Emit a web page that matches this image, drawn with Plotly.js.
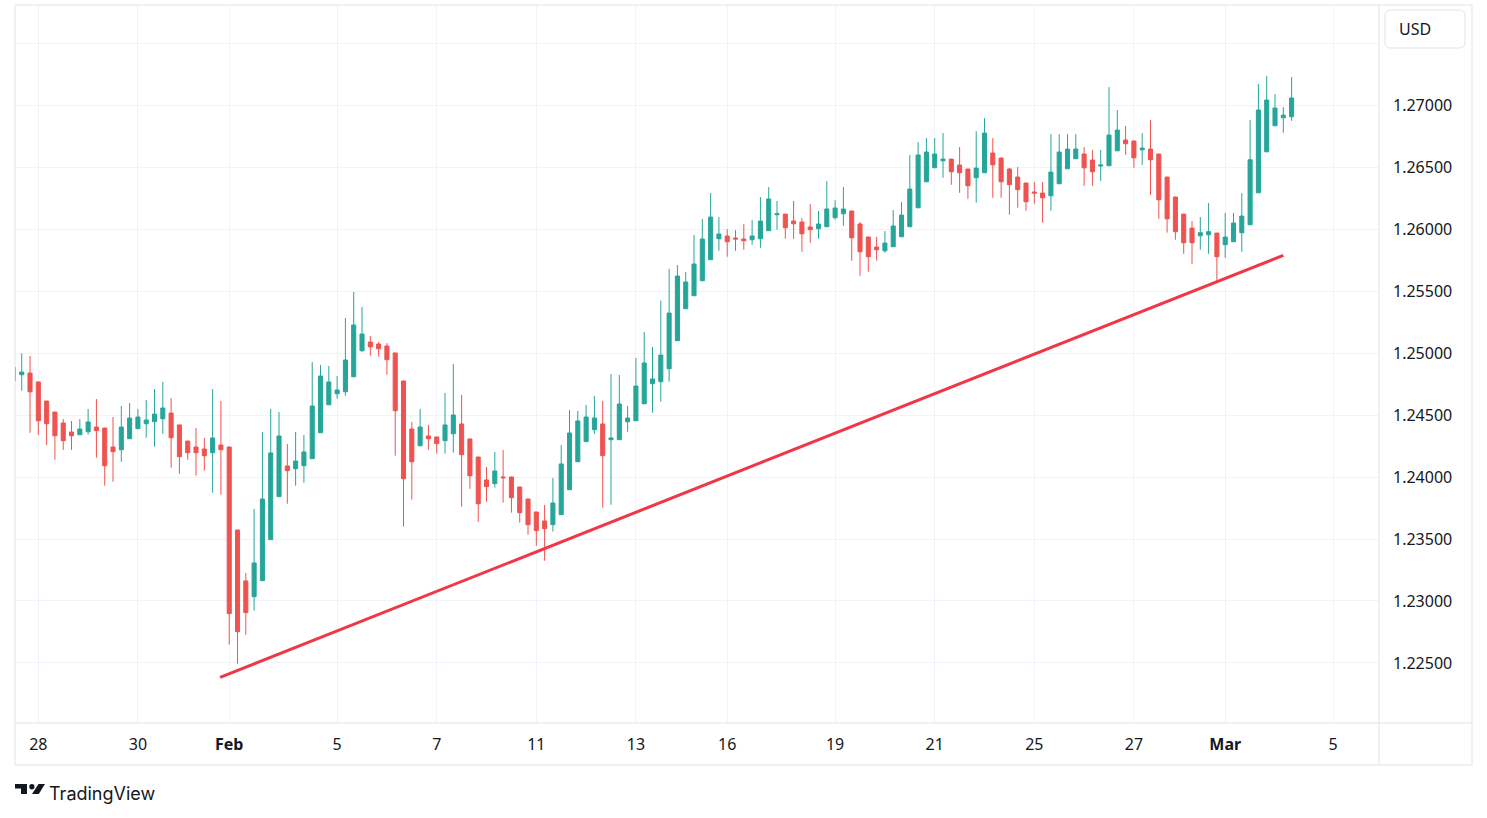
<!DOCTYPE html>
<html>
<head>
<meta charset="utf-8">
<script src="https://cdn.plot.ly/plotly-3.0.1.min.js"></script>
<style>
  html, body { margin: 0; padding: 0; background: #ffffff; }
  #chart { width: 1487px; height: 818px; }
</style>
</head>
<body>
<div id="chart"></div>
<script>
// 4h candles (oldest first)
var openP = [
  1.24778, 1.24826, 1.24840, 1.24768, 1.24614, 1.24525, 1.24437, 1.24364, 1.24342, 1.24366,
  1.24404, 1.24396, 1.24243, 1.24221, 1.24310, 1.24391, 1.24431, 1.24447, 1.24471, 1.24517,
  1.24421, 1.24291, 1.24243, 1.24227, 1.24197, 1.24259, 1.24243, 1.23573, 1.23162, 1.23035,
  1.23164, 1.23495, 1.23842, 1.24090, 1.24068, 1.24092, 1.24149, 1.24358, 1.24584, 1.24673,
  1.24689, 1.24810, 1.25020, 1.25090, 1.25074, 1.25058, 1.25002, 1.24776, 1.24388, 1.24253,
  1.24332, 1.24324, 1.24294, 1.24350, 1.24429, 1.24308, 1.24162, 1.23977, 1.23947, 1.24001,
  1.24001, 1.23920, 1.23823, 1.23718, 1.23646, 1.23616, 1.23697, 1.23898, 1.24124, 1.24286,
  1.24383, 1.24429, 1.24302, 1.24302, 1.24447, 1.24455, 1.24592, 1.24754, 1.24770, 1.24875,
  1.25101, 1.25359, 1.25464, 1.25585, 1.25755, 1.25924, 1.25946, 1.25930, 1.25922, 1.25916,
  1.25924, 1.25989, 1.26118, 1.26123, 1.26067, 1.26059, 1.26019, 1.26005, 1.26021, 1.26094,
  1.26126, 1.26148, 1.26043, 1.25938, 1.25857, 1.25827, 1.25860, 1.25940, 1.26021, 1.26174,
  1.26384, 1.26497, 1.26553, 1.26567, 1.26519, 1.26487, 1.26416, 1.26457, 1.26616, 1.26576,
  1.26487, 1.26422, 1.26374, 1.26301, 1.26293, 1.26271, 1.26368, 1.26489, 1.26570, 1.26608,
  1.26559, 1.26511, 1.26513, 1.26634, 1.26721, 1.26713, 1.26642, 1.26648, 1.26608, 1.26422,
  1.26261, 1.26123, 1.26010, 1.25948, 1.25956, 1.25970, 1.25876, 1.25900, 1.25973, 1.26037,
  1.26295, 1.26626, 1.26836, 1.26901, 1.26909
];
var highP = [
  1.24897, 1.24999, 1.24977, 1.24770, 1.24616, 1.24527, 1.24469, 1.24453, 1.24469, 1.24550,
  1.24630, 1.24398, 1.24485, 1.24574, 1.24598, 1.24550, 1.24622, 1.24711, 1.24768, 1.24638,
  1.24423, 1.24293, 1.24396, 1.24316, 1.24711, 1.24614, 1.24245, 1.23575, 1.23226, 1.23743,
  1.24364, 1.24550, 1.24525, 1.24267, 1.24364, 1.24340, 1.24929, 1.24905, 1.24897, 1.24816,
  1.25284, 1.25494, 1.25373, 1.25139, 1.25090, 1.25082, 1.25004, 1.24778, 1.24445, 1.24550,
  1.24421, 1.24326, 1.24679, 1.24913, 1.24663, 1.24310, 1.24164, 1.24082, 1.24203, 1.24219,
  1.24003, 1.23922, 1.23825, 1.23720, 1.23775, 1.23993, 1.24259, 1.24542, 1.24534, 1.24582,
  1.24655, 1.24614, 1.24832, 1.24824, 1.24574, 1.24961, 1.25171, 1.25050, 1.25424, 1.25680,
  1.25712, 1.25655, 1.25954, 1.26083, 1.26293, 1.26099, 1.26002, 1.25994, 1.26043, 1.26075,
  1.26261, 1.26341, 1.26229, 1.26125, 1.26229, 1.26091, 1.26204, 1.26148, 1.26390, 1.26236,
  1.26341, 1.26150, 1.26059, 1.25940, 1.25940, 1.25986, 1.26156, 1.26220, 1.26600, 1.26704,
  1.26737, 1.26737, 1.26777, 1.26569, 1.26664, 1.26489, 1.26793, 1.26898, 1.26737, 1.26578,
  1.26495, 1.26503, 1.26376, 1.26382, 1.26382, 1.26769, 1.26769, 1.26769, 1.26769, 1.26664,
  1.26640, 1.26640, 1.27148, 1.26963, 1.26834, 1.26715, 1.26777, 1.26882, 1.26610, 1.26424,
  1.26263, 1.26125, 1.26067, 1.26099, 1.26212, 1.25972, 1.26132, 1.26132, 1.26293, 1.26882,
  1.27173, 1.27237, 1.27092, 1.26987, 1.27229
];
var lowP = [
  1.24772, 1.24697, 1.24358, 1.24340, 1.24259, 1.24140, 1.24219, 1.24219, 1.24340, 1.24342,
  1.24157, 1.23931, 1.23963, 1.24124, 1.24308, 1.24389, 1.24318, 1.24245, 1.24350, 1.24076,
  1.24027, 1.24140, 1.24011, 1.24052, 1.23874, 1.23858, 1.22647, 1.22494, 1.22728, 1.22922,
  1.23162, 1.23493, 1.23840, 1.23785, 1.23931, 1.23955, 1.24147, 1.24356, 1.24582, 1.24633,
  1.24657, 1.24808, 1.25012, 1.24980, 1.24972, 1.24826, 1.24173, 1.23600, 1.23818, 1.24251,
  1.24221, 1.24189, 1.24189, 1.24197, 1.23761, 1.23906, 1.23640, 1.23802, 1.23915, 1.23793,
  1.23713, 1.23632, 1.23535, 1.23446, 1.23325, 1.23560, 1.23695, 1.23896, 1.24122, 1.24284,
  1.24350, 1.23753, 1.23777, 1.24300, 1.24366, 1.24453, 1.24590, 1.24520, 1.24609, 1.24770,
  1.25099, 1.25357, 1.25462, 1.25583, 1.25753, 1.25827, 1.25779, 1.25827, 1.25835, 1.25876,
  1.25851, 1.25987, 1.25997, 1.25924, 1.25924, 1.25819, 1.25892, 1.25924, 1.26019, 1.26078,
  1.26029, 1.25747, 1.25625, 1.25658, 1.25747, 1.25811, 1.25858, 1.25938, 1.26019, 1.26172,
  1.26382, 1.26495, 1.26416, 1.26360, 1.26295, 1.26247, 1.26215, 1.26455, 1.26255, 1.26255,
  1.26118, 1.26174, 1.26150, 1.26207, 1.26053, 1.26150, 1.26366, 1.26487, 1.26568, 1.26352,
  1.26352, 1.26392, 1.26511, 1.26632, 1.26602, 1.26497, 1.26521, 1.26279, 1.26085, 1.25973,
  1.25916, 1.25803, 1.25722, 1.25835, 1.25803, 1.25585, 1.25771, 1.25898, 1.25819, 1.26035,
  1.26293, 1.26624, 1.26834, 1.26780, 1.26876
];
var closeP = [
  1.24886, 1.24848, 1.24689, 1.24455, 1.24431, 1.24334, 1.24294, 1.24334, 1.24388, 1.24445,
  1.24375, 1.24092, 1.24205, 1.24404, 1.24477, 1.24485, 1.24461, 1.24509, 1.24558, 1.24318,
  1.24165, 1.24197, 1.24197, 1.24173, 1.24316, 1.24221, 1.22898, 1.22752, 1.22906, 1.23307,
  1.23823, 1.24195, 1.24332, 1.24052, 1.24130, 1.24203, 1.24574, 1.24816, 1.24768, 1.24703,
  1.24945, 1.25228, 1.25155, 1.25052, 1.25036, 1.24948, 1.24536, 1.23987, 1.24124, 1.24404,
  1.24310, 1.24270, 1.24421, 1.24501, 1.24181, 1.24011, 1.23785, 1.23923, 1.24049, 1.23995,
  1.23834, 1.23713, 1.23616, 1.23568, 1.23584, 1.23791, 1.24106, 1.24356, 1.24453, 1.24485,
  1.24477, 1.24173, 1.24316, 1.24590, 1.24477, 1.24735, 1.24921, 1.24792, 1.24985, 1.25324,
  1.25623, 1.25575, 1.25720, 1.25922, 1.26099, 1.25962, 1.25900, 1.25922, 1.25908, 1.25946,
  1.26067, 1.26245, 1.26126, 1.26013, 1.26045, 1.25964, 1.25997, 1.26043, 1.26164, 1.26172,
  1.26164, 1.25932, 1.25819, 1.25779, 1.25835, 1.25889, 1.26027, 1.26115, 1.26325, 1.26600,
  1.26624, 1.26608, 1.26567, 1.26465, 1.26457, 1.26352, 1.26495, 1.26777, 1.26521, 1.26384,
  1.26360, 1.26320, 1.26223, 1.26293, 1.26255, 1.26462, 1.26624, 1.26648, 1.26648, 1.26497,
  1.26465, 1.26519, 1.26761, 1.26801, 1.26691, 1.26578, 1.26656, 1.26562, 1.26239, 1.26085,
  1.25981, 1.25892, 1.25892, 1.25973, 1.25981, 1.25779, 1.25938, 1.26051, 1.26107, 1.26562,
  1.26963, 1.27044, 1.26979, 1.26922, 1.27060
];

// date labels on the time axis, at candle numbers
var tickBars = [3, 15, 26, 39, 51, 63, 75, 86, 99, 111, 123, 135, 146, 159];
var tickLabels = ["28", "30", "<b>Feb</b>", "5", "7", "11", "13", "16", "19", "21", "25", "27", "<b>Mar</b>", "5"];

// price axis levels
var priceLevels = [1.225, 1.23, 1.235, 1.24, 1.245, 1.25, 1.255, 1.26, 1.265, 1.27, 1.275];

// support line drawn on the chart (candle number, price)
var trendBars = [24.9, 153.0];
var trendPrice = [1.22384, 1.25790];

var bars = openP.map(function (v, i) { return i; });

// pixel -> paper helpers for the frame decorations
function px(x) { return (x - 15) / 1364; }
function py(y) { return (723 - y) / 718; }

var candles = {
  type: 'candlestick',
  x: bars,
  open: openP,
  high: highP,
  low: lowP,
  close: closeP,
  increasing: { line: { color: '#26a69a', width: 1 }, fillcolor: '#26a69a' },
  decreasing: { line: { color: '#ef5350', width: 1 }, fillcolor: '#ef5350' },
  whiskerwidth: 0,
  hoverinfo: 'skip',
  showlegend: false
};

var trend = {
  type: 'scatter',
  mode: 'lines',
  x: trendBars,
  y: trendPrice,
  line: { color: '#f23645', width: 3 },
  hoverinfo: 'skip',
  showlegend: false
};

var border = '#e0e3eb';
var shapes = [
  { type: 'rect', xref: 'paper', yref: 'paper', x0: 0, x1: px(1472), y0: py(765), y1: 1,
    line: { color: border, width: 1 } },
  { type: 'line', xref: 'paper', yref: 'paper', x0: 1, x1: 1, y0: py(765), y1: 1,
    line: { color: border, width: 1 } },
  { type: 'line', xref: 'paper', yref: 'paper', x0: 0, x1: px(1472), y0: 0, y1: 0,
    line: { color: border, width: 1 } },
  // USD box
  { type: 'path', xref: 'paper', yref: 'paper', line: { color: border, width: 1 },
    path: 'M' + px(1391) + ',' + py(10) + ' L' + px(1459) + ',' + py(10) +
          ' Q' + px(1465) + ',' + py(10) + ' ' + px(1465) + ',' + py(16) +
          ' L' + px(1465) + ',' + py(42) +
          ' Q' + px(1465) + ',' + py(48) + ' ' + px(1459) + ',' + py(48) +
          ' L' + px(1391) + ',' + py(48) +
          ' Q' + px(1385) + ',' + py(48) + ' ' + px(1385) + ',' + py(42) +
          ' L' + px(1385) + ',' + py(16) +
          ' Q' + px(1385) + ',' + py(10) + ' ' + px(1391) + ',' + py(10) + ' Z' },
  // TradingView logo
  { type: 'path', xref: 'paper', yref: 'paper', fillcolor: '#131722', line: { width: 0 },
    path: 'M' + px(15) + ',' + py(784) + ' L' + px(27) + ',' + py(784) + ' L' + px(27) + ',' + py(794) +
          ' L' + px(21) + ',' + py(794) + ' L' + px(21) + ',' + py(788.5) + ' L' + px(15) + ',' + py(788.5) + ' Z' },
  { type: 'circle', xref: 'paper', yref: 'paper', fillcolor: '#131722', line: { width: 0 },
    x0: px(29.3), x1: px(34.5), y0: py(789.5), y1: py(784) },
  { type: 'path', xref: 'paper', yref: 'paper', fillcolor: '#131722', line: { width: 0 },
    path: 'M' + px(32) + ',' + py(794) + ' L' + px(38.8) + ',' + py(794) + ' L' + px(45) + ',' + py(784) +
          ' L' + px(38.5) + ',' + py(784) + ' Z' }
];

var layout = {
  width: 1487,
  height: 818,
  margin: { l: 15, r: 108, t: 5, b: 95 },
  paper_bgcolor: '#ffffff',
  plot_bgcolor: '#ffffff',
  font: { family: 'Noto Sans, sans-serif', size: 16, color: '#131722' },
  showlegend: false,
  xaxis: {
    range: [0.19, 164.53],
    rangeslider: { visible: false },
    tickmode: 'array',
    tickvals: tickBars,
    ticktext: tickLabels,
    showgrid: true,
    gridcolor: '#f0f3fa',
    gridwidth: 1,
    zeroline: false,
    showline: false,
    ticks: '',
    ticklabelstandoff: 10,
    tickfont: { size: 16, color: '#131722' },
    fixedrange: true
  },
  yaxis: {
    side: 'right',
    range: [1.22015, 1.27811],
    tickmode: 'array',
    tickvals: priceLevels,
    ticktext: priceLevels.map(function (v) { return v === 1.275 ? '' : v.toFixed(5); }),
    showgrid: true,
    gridcolor: '#f0f3fa',
    gridwidth: 1,
    zeroline: false,
    showline: false,
    ticks: '',
    ticklabelstandoff: 13,
    tickfont: { size: 16, color: '#131722' },
    fixedrange: true
  },
  shapes: shapes,
  annotations: [
    { xref: 'paper', yref: 'paper', x: px(1397), y: py(29), xanchor: 'left', yanchor: 'middle',
      text: 'USD', showarrow: false, font: { size: 16, color: '#131722' } },
    { xref: 'paper', yref: 'paper', x: px(47), y: py(793), xanchor: 'left', yanchor: 'middle',
      text: 'TradingView', showarrow: false, font: { family: 'Inter, sans-serif', size: 18, color: '#131722' } }
  ]
};

Plotly.newPlot('chart', [candles, trend], layout, { staticPlot: true, displayModeBar: false });
</script>
</body>
</html>
